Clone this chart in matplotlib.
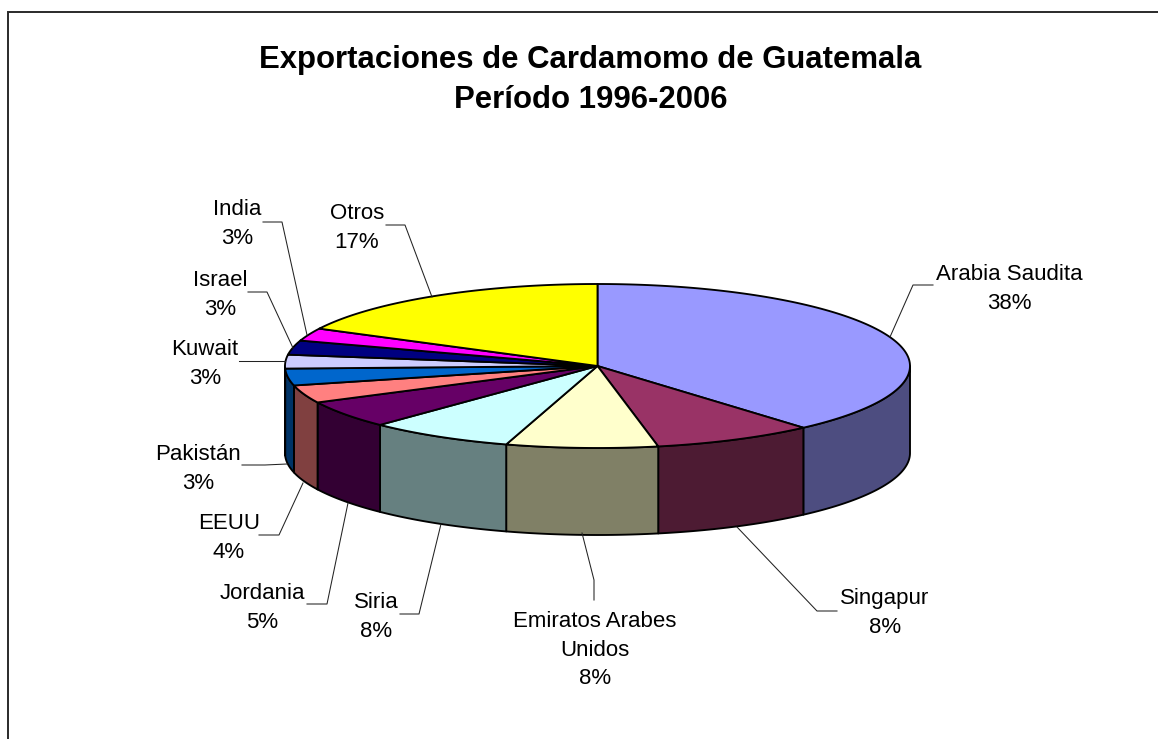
import numpy as np
import matplotlib
matplotlib.use("Agg")
import matplotlib.pyplot as plt

plt.rcParams['font.family'] = ['Liberation Sans', 'DejaVu Sans']

title = "Exportaciones de Cardamomo de Guatemala\nPeríodo 1996-2006"
categories = ["Arabia Saudita", "Singapur", "Emiratos Arabes\nUnidos", "Siria", "Jordania",
              "EEUU", "Pakistán", "Kuwait", "Israel", "India", "Otros"]
values = [38.4, 8.3, 7.8, 7.5, 5.4, 3.5, 3.3, 2.7, 2.8, 2.5, 17.4]
pct_labels = ["38%", "8%", "8%", "8%", "5%", "4%", "3%", "3%", "3%", "3%", "17%"]
top_colors = ["#9999FF", "#993366", "#FFFFCC", "#CCFFFF", "#660066", "#FF8080",
              "#0066CC", "#CCCCFF", "#000080", "#FF00FF", "#FFFF00"]
side_colors = ["#4D4D80", "#4D1B33", "#808066", "#668080", "#330033", "#804040",
               "#003366", "#666680", "#000040", "#800080", "#808000"]

W, H = 1158, 739
CX, CY, RX, RY, DEPTH = 597.5, 366, 312.5, 82, 87

label_pos = [(1009, 289), (885, 613), (595, 650), (376, 617), (262, 608), (229, 538),
             (198, 469), (205, 364), (220, 295), (237, 224), (357, 228)]
leaders = [
    [(933, 285), (913, 285), (890, 337)],
    [(837, 611), (817, 611), (737, 527)],
    [(594, 600), (594, 580), (582, 533)],
    [(400, 614), (419, 614), (441, 524)],
    [(307, 604), (327, 604), (348, 503)],
    [(259, 535), (279, 535), (303, 483)],
    [(242, 465), (265, 465), (287, 464)],
    [(239, 361), (285, 361)],
    [(248, 292), (267, 292), (293, 348)],
    [(263, 222), (282, 222), (307, 335)],
    [(386, 225), (405, 225), (432, 297)],
]

fig = plt.figure(figsize=(W / 100, H / 100), dpi=100, facecolor="white")
ax = fig.add_axes([0, 0, 1, 1])
ax.set_xlim(0, W)
ax.set_ylim(H, 0)
ax.axis("off")

# chart frame: left and top edges only, the right and bottom are cropped away
ax.plot([8, 8, W + 2], [H + 2, 12, 12], color="#2A2A2A", lw=1.4, solid_capstyle="butt",
        solid_joinstyle="miter")


def ell(theta, dy=0.0):
    return CX + RX * np.sin(theta), CY - RY * np.cos(theta) + dy


fractions = np.array(values) / sum(values)
edges = np.concatenate([[0], np.cumsum(fractions)]) * 2 * np.pi

# outer wall (front half only)
for i in range(len(values)):
    a = max(edges[i], np.pi / 2)
    b = min(edges[i + 1], 3 * np.pi / 2)
    if b <= a:
        continue
    t = np.linspace(a, b, 80)
    x, y = ell(t)
    x2, y2 = ell(t[::-1], DEPTH)
    ax.fill(np.r_[x, x2], np.r_[y, y2], facecolor=side_colors[i], edgecolor="black",
            lw=1.35, joinstyle="round", zorder=2)

# top face
for i in range(len(values)):
    t = np.linspace(edges[i], edges[i + 1], 120)
    x, y = ell(t)
    ax.fill(np.r_[CX, x], np.r_[CY, y], facecolor=top_colors[i], edgecolor="black",
            lw=1.35, joinstyle="round", zorder=3)

# leader lines
for pts in leaders:
    px, py = zip(*pts)
    ax.plot(px, py, color="#222222", lw=0.75, zorder=4)

# labels
for name, pct, (lx, ly) in zip(categories, pct_labels, label_pos):
    ax.text(lx, ly, f"{name}\n{pct}", ha="center", va="center", fontsize=16,
            color="black", linespacing=1.45, zorder=5)

ax.text(590.5, 80, title, ha="center", va="center", fontsize=22.4, fontweight="bold",
        color="black", linespacing=1.42, zorder=5)

fig.savefig("out.png", dpi=100, facecolor="white")
